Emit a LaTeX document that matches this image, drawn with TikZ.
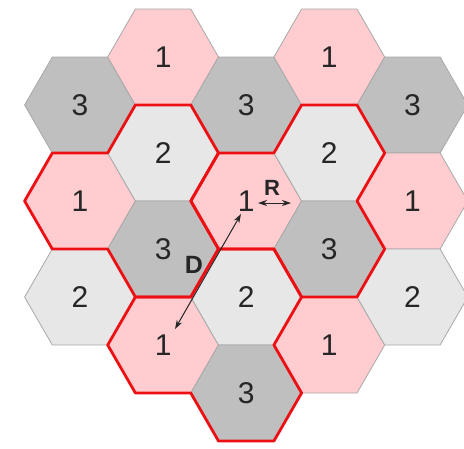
\documentclass[tikz,border=0pt]{standalone}
\usepackage{fontspec}
\setmainfont{Liberation Sans}
\usepackage{tikz}
\usetikzlibrary{arrows.meta}
\usepackage{xcolor}
\definecolor{cellpink}{RGB}{255,204,207}
\definecolor{celllight}{RGB}{231,231,231}
\definecolor{celldark}{RGB}{191,191,191}
\definecolor{celledge}{RGB}{168,168,168}
\definecolor{clusterred}{RGB}{236,16,20}
% one hexagonal cell: name, centre x, centre y, fill, channel
\newcommand{\hexcell}[5]{%
  \draw[cell,fill=#4] (#2,#3) ++(55.4,0) -- ++(-27.7,-48) -- ++(-55.4,0)
    -- ++(-27.7,48) -- ++(27.7,48) -- ++(55.4,0) -- cycle;
  \node[chan] (#1) at (#2,#3) {#5};}
% outline of a three-cell cluster, from its left corner
\newcommand{\clusteroutline}[2]{%
  \draw[cluster] (#1,#2) -- ++(27.7,-48) -- ++(55.4,0) -- ++(27.7,-48)
    -- ++(55.4,0) -- ++(27.7,48) -- ++(-27.7,48) -- ++(27.7,48)
    -- ++(-27.7,48) -- ++(-55.4,0) -- ++(-27.7,-48) -- ++(-55.4,0) -- cycle;}

\begin{document}
\begin{tikzpicture}[x=1pt,y=-1pt,>={Stealth[length=9pt,width=6pt]},
    cell/.style={draw=celledge,line width=0.8pt},
    chan/.style={font=\fontsize{30}{30}\selectfont,text=black!85},
    cluster/.style={draw=clusterred,line width=2.8pt,line join=round},
    dim/.style={<->,line width=1pt,black!85},
    dimlabel/.style={font=\bfseries\fontsize{22}{22}\selectfont,text=black!85}]
  \useasboundingbox (0,0) rectangle (464,448);
  % first column
  \hexcell{c01}{80}{105}{celldark}{3}
  \hexcell{c02}{80}{201}{cellpink}{1}
  \hexcell{c03}{80}{297}{celllight}{2}
  % second column
  \hexcell{c11}{163.1}{57}{cellpink}{1}
  \hexcell{c12}{163.1}{153}{celllight}{2}
  \hexcell{c13}{163.1}{249}{celldark}{3}
  \hexcell{c14}{163.1}{345}{cellpink}{1}
  % third column
  \hexcell{c21}{246.2}{105}{celldark}{3}
  \hexcell{c22}{246.2}{201}{cellpink}{1}
  \hexcell{c23}{246.2}{297}{celllight}{2}
  \hexcell{c24}{246.2}{393}{celldark}{3}
  % fourth column
  \hexcell{c31}{329.3}{57}{cellpink}{1}
  \hexcell{c32}{329.3}{153}{celllight}{2}
  \hexcell{c33}{329.3}{249}{celldark}{3}
  \hexcell{c34}{329.3}{345}{cellpink}{1}
  % fifth column
  \hexcell{c41}{412.4}{105}{celldark}{3}
  \hexcell{c42}{412.4}{201}{cellpink}{1}
  \hexcell{c43}{412.4}{297}{celllight}{2}
  % clusters (red)
  \clusteroutline{24.6}{201}
  \clusteroutline{190.8}{201}
  \clusteroutline{107.7}{345}
  % cell radius
  \coordinate (rtail) at (258,203);
  \coordinate (rhead) at (291,203);
  \draw[dim] (rtail) -- (rhead);
  \node[dimlabel] (rlabel) at (272,188) {R};
  % reuse distance
  \coordinate (dtop) at (241,214);
  \coordinate (dbottom) at (175,329);
  \draw[dim] (dtop) -- (dbottom);
  \node[dimlabel,font=\bfseries\fontsize{25}{25}\selectfont] (dlabel) at (194,265) {D};
\end{tikzpicture}
\end{document}
